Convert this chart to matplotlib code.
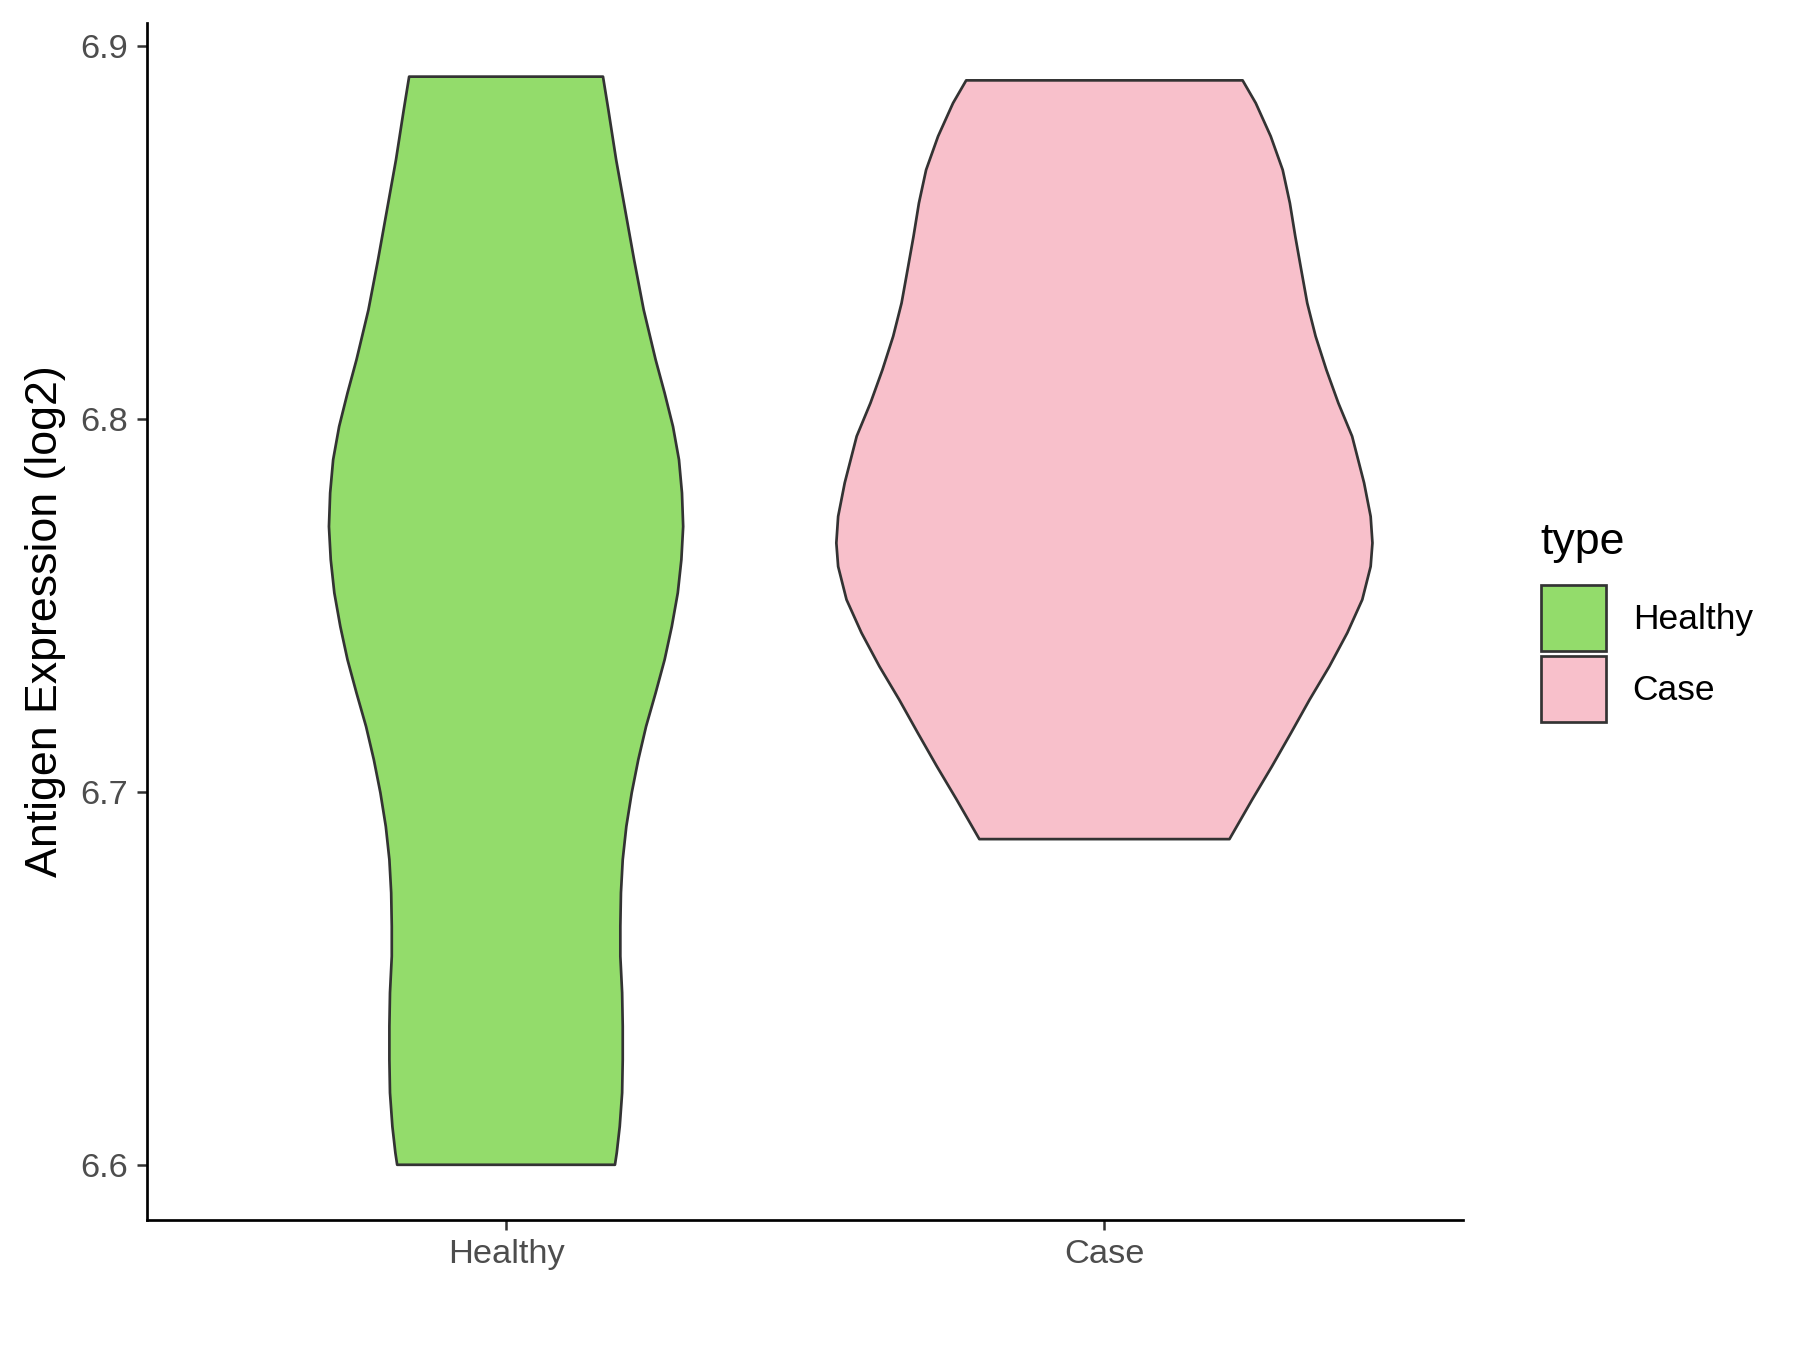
import numpy as np
import matplotlib.pyplot as plt
from matplotlib.patches import Patch

plt.rcParams['font.family'] = ['Liberation Sans', 'DejaVu Sans']

groups = ['Healthy', 'Case']
colors = ['#93DC6B', '#F8C0CB']

# violin outlines: y value and half width (in x units)
healthy_y = [6.6000, 6.6032, 6.6103, 6.6193, 6.6282, 6.6371, 6.6461, 6.6559,
             6.6639, 6.6729, 6.6818, 6.6907, 6.6997, 6.7086, 6.7175, 6.7265,
             6.7354, 6.7443, 6.7533, 6.7622, 6.7711, 6.7801, 6.7890, 6.7979,
             6.8069, 6.8158, 6.8292, 6.8426, 6.8560, 6.8694, 6.8828, 6.8917]
healthy_w = [0.182, 0.185, 0.190, 0.194, 0.195, 0.195, 0.194, 0.191,
             0.191, 0.192, 0.195, 0.201, 0.210, 0.221, 0.234, 0.250,
             0.265, 0.277, 0.287, 0.293, 0.296, 0.294, 0.289, 0.279,
             0.265, 0.250, 0.230, 0.214, 0.199, 0.184, 0.171, 0.162]

case_y = [6.6873, 6.6979, 6.7068, 6.7158, 6.7247, 6.7336, 6.7426, 6.7515,
          6.7604, 6.7667, 6.7738, 6.7828, 6.7953, 6.8042, 6.8131,
          6.8221, 6.8310, 6.8399, 6.8489, 6.8578, 6.8667, 6.8757, 6.8846,
          6.8907]
case_w = [0.209, 0.247, 0.280, 0.312, 0.343, 0.376, 0.406, 0.431,
          0.445, 0.448, 0.445, 0.434, 0.414, 0.391, 0.371,
          0.353, 0.339, 0.329, 0.319, 0.310, 0.298, 0.278, 0.253,
          0.231]

profiles = [(healthy_y, healthy_w), (case_y, case_w)]

fig = plt.figure(figsize=(12, 9), dpi=150)
ax = fig.add_axes([0.0817, 0.0963, 0.7313, 0.887])

for i, (ys, ws) in enumerate(profiles):
    pos = i + 1
    ys = np.array(ys)
    ws = np.array(ws)
    xs = np.concatenate([pos - ws, (pos + ws)[::-1], [pos - ws[0]]])
    yy = np.concatenate([ys, ys[::-1], [ys[0]]])
    ax.fill(xs, yy, facecolor=colors[i], edgecolor='#333333', linewidth=1.3,
            joinstyle='round')

ax.set_xlim(0.4, 2.6)
ax.set_ylim(6.5852, 6.9062)
ax.set_xticks([1, 2])
ax.set_xticklabels(groups)
ax.set_yticks([6.6, 6.7, 6.8, 6.9])
ax.set_yticklabels(['6.6', '6.7', '6.8', '6.9'])
ax.tick_params(axis='both', labelsize=16.5, labelcolor='#4D4D4D', color='#333333',
               length=5, width=1.2, pad=4)
ax.set_ylabel('Antigen Expression (log2)', fontsize=21.5, labelpad=7)

for s in ['top', 'right']:
    ax.spines[s].set_visible(False)
for s in ['left', 'bottom']:
    ax.spines[s].set_linewidth(1.3)
    ax.spines[s].set_color('black')

handles = [Patch(facecolor=c, edgecolor='#333333', linewidth=1.3) for c in colors]
leg = fig.legend(handles, groups, title='type', loc='upper left',
                 bbox_to_anchor=(0.848, 0.624), frameon=False, fontsize=17,
                 title_fontsize=21.5, handlelength=1.85, handleheight=2.5,
                 labelspacing=0.15, handletextpad=0.75, borderaxespad=0)
leg._legend_box.align = 'left'
leg._legend_box.sep = 10.5

fig.savefig('out.png', dpi=150)
